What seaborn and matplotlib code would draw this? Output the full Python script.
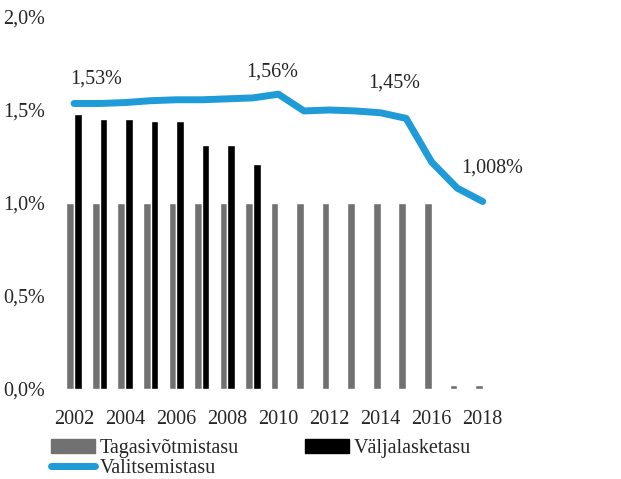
import numpy as np
import pandas as pd
import matplotlib
matplotlib.use("Agg")
import matplotlib.pyplot as plt
import seaborn as sns
from matplotlib.patches import Patch
from matplotlib.lines import Line2D

# andmed (loetud jooniselt)
years = list(range(2002, 2019))
tagasivotmistasu = [1.0] * 15 + [0.02, 0.02]
valjalasketasu = [1.48, 1.45, 1.45, 1.44, 1.44, 1.31, 1.31, 1.21] + [np.nan] * 9
valitsemistasu = [1.535, 1.535, 1.54, 1.55, 1.555, 1.555, 1.56, 1.565, 1.585,
                  1.495, 1.5, 1.495, 1.485, 1.455, 1.22, 1.08, 1.008]
label_idx = [0, 8, 13, 16]
label_txt = ["1,53%", "1,56%", "1,45%", "1,008%"]
label_dx = [0.85, -0.25, -0.45, 0.35]
label_dy = [0.13, 0.12, 0.19, 0.18]

grey = "#717171"
blue = "#1f9bd7"

sns.set_style("white")
plt.rcParams["font.family"] = ["Liberation Serif", "DejaVu Serif"]

df = pd.DataFrame({
    "aasta": [str(y) for y in years] * 2,
    "tasu": tagasivotmistasu + valjalasketasu,
    "liik": ["Tagasivõtmistasu"] * len(years) + ["Väljalasketasu"] * len(years),
})

fig = plt.figure(figsize=(6.21, 4.79), dpi=100)
ax = fig.add_axes([60 / 621, 1 - 389 / 479, 470 / 621, 372 / 479])

sns.barplot(data=df, x="aasta", y="tasu", hue="liik",
            palette=[grey, "black"], width=0.6, ax=ax, legend=False,
            saturation=1)
sns.lineplot(x=np.arange(len(years)), y=valitsemistasu, color=blue, lw=5,
             ax=ax, solid_capstyle="round")

# väärtuste sildid
for i, t, dx, dy in zip(label_idx, label_txt, label_dx, label_dy):
    ax.text(i + dx, valitsemistasu[i] + dy, t, ha="center", va="center",
            fontsize=14.5, clip_on=False)

ax.set_ylim(0, 2.0)
ax.set_xlim(-0.55, 17.85)
ax.set_yticks([0, 0.5, 1.0, 1.5, 2.0])
ax.set_yticklabels(["0,0%", "0,5%", "1,0%", "1,5%", "2,0%"])
ax.set_xticks(range(0, len(years), 2))
ax.set_xticklabels([str(y) for y in years[::2]])
ax.tick_params(axis="both", length=0, labelsize=14.5)
ax.tick_params(axis="y", pad=11)
ax.tick_params(axis="x", pad=15)
ax.set_xlabel("")
ax.set_ylabel("")
sns.despine(ax=ax, left=True, bottom=True)

handles = [Patch(color=grey), Line2D([], [], color=blue, lw=5, solid_capstyle="round"),
           Patch(color="black")]
labels = ["Tagasivõtmistasu", "Valitsemistasu", "Väljalasketasu"]
fig.legend(handles, labels, ncol=2, frameon=False, fontsize=14.5,
           loc="upper left", bbox_to_anchor=(51 / 621, 1 - 439 / 479),
           borderpad=0, borderaxespad=0, handlelength=2.2, handletextpad=0.2,
           labelspacing=0.05, columnspacing=3.3)

fig.savefig("out.png", dpi=100)
